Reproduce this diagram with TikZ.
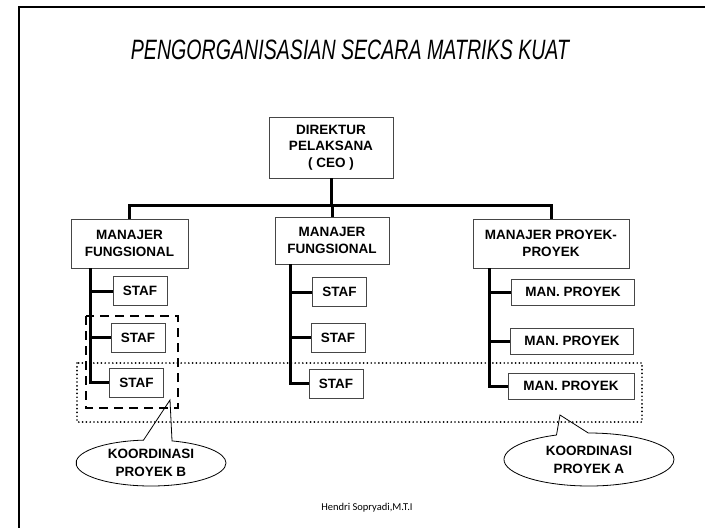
\documentclass[tikz,border=0pt]{standalone}
\usepackage{fontspec}
\setmainfont{Liberation Sans}
\newfontfamily\footerFont{Carlito}
\usetikzlibrary{shapes.callouts}
\definecolor{boxColor}{RGB}{70,70,70}
\tikzstyle{chart} = [x = 1pt, y = -1pt]
\tikzstyle{boxStyle} = [draw=boxColor, line width=.9pt, fill=white, inner sep=0pt, align=center, font=\fontsize{13.5}{16.5}\selectfont\bfseries]
\tikzstyle{stafStyle} = [boxStyle, minimum width=54pt, minimum height=29pt]
\tikzstyle{manStyle} = [boxStyle, minimum width=123pt, minimum height=26pt]
\tikzstyle{orgLine} = [line width=3pt]
\tikzstyle{frameLine} = [line width=2.5pt]
\tikzstyle{dashedBox} = [line width=2.5pt, dash pattern=on 9pt off 6pt]
\tikzstyle{dottedBox} = [line width=1.9pt, dash pattern=on 0pt off 3.8pt, line cap=round]
\tikzstyle{calloutStyle} = [ellipse callout, draw=black, line width=.8pt, callout pointer arc=22, align=center, inner sep=0pt, font=\fontsize{13.5}{18}\selectfont\bfseries]
\newcommand{\stafBranch}[2]{\draw [orgLine] (#2.west) -- (#2.west -| #1);}

\begin{document}
\begin{tikzpicture}[chart]
  \useasboundingbox (0,0) rectangle (705,528);
  \clip (0,0) rectangle (705,528);
  \draw [frameLine] (19,540) -- (19,7) -- (720,7);
  \node (title) at (350,50) [xscale=.70, font=\fontsize{28}{30}\selectfont\itshape] {PENGORGANISASIAN SECARA MATRIKS KUAT};
  % managers
  \node [boxStyle, minimum width=124pt, minimum height=61pt] (ceo) at (331,147.5) {DIREKTUR\\PELAKSANA\\( CEO )};
  \node [boxStyle, minimum width=117pt, minimum height=49pt] (leftMgr) at (129.5,243.5) {MANAJER\\FUNGSIONAL};
  \node [boxStyle, minimum width=114pt, minimum height=47pt] (midMgr) at (332,240.5) {MANAJER\\FUNGSIONAL};
  \node [boxStyle, minimum width=156pt, minimum height=49pt] (rightMgr) at (551,243.5) {MANAJER PROYEK-\\PROYEK};
  \coordinate (busLine) at (331,205);
  \draw [orgLine] (ceo.south) -- (busLine);
  \draw [orgLine] (leftMgr.north) |- (busLine) -| (rightMgr.north);
  \draw [orgLine] (midMgr.north) -- (midMgr.north |- busLine);
  % staff
  \node [stafStyle] (leftStafA) at (140,291) {STAF};
  \node [stafStyle] (leftStafB) at (138,337.5) {STAF};
  \node [stafStyle] (leftStafC) at (136.5,382.5) {STAF};
  \node [stafStyle] (midStafA) at (339.5,292) {STAF};
  \node [stafStyle] (midStafB) at (338,337.5) {STAF};
  \node [stafStyle] (midStafC) at (336,383.5) {STAF};
  \node [manStyle] (manA) at (573,292) {MAN. PROYEK};
  \node [manStyle] (manB) at (572,341) {MAN. PROYEK};
  \node [manStyle, minimum width=126pt] (manC) at (571,386) {MAN. PROYEK};
  \coordinate (leftTrunk) at (90,268);
  \coordinate (midTrunk) at (290,264);
  \coordinate (rightTrunk) at (489,268);
  \draw [orgLine] (leftTrunk) |- (leftStafC.west);
  \draw [orgLine] (midTrunk) |- (midStafC.west);
  \draw [orgLine] (rightTrunk) |- (manC.west);
  \foreach \stafNode in {leftStafA,leftStafB} {\stafBranch{leftTrunk}{\stafNode}}
  \foreach \stafNode in {midStafA,midStafB} {\stafBranch{midTrunk}{\stafNode}}
  \foreach \stafNode in {manA,manB} {\stafBranch{rightTrunk}{\stafNode}}
  % coordination
  \draw [dashedBox] (86,316) rectangle (178,408);
  \draw [dottedBox] (77,363) rectangle (642,422);
  \node [calloutStyle, minimum width=150pt, minimum height=46pt, callout absolute pointer={(170,400)}] (koordB) at (151,463) {KOORDINASI\\PROYEK B};
  \node [calloutStyle, minimum width=170pt, minimum height=53pt, callout absolute pointer={(560,415)}] (koordA) at (589,459.5) {KOORDINASI\\PROYEK A};
  \node (footer) at (367,508) {\footerFont\fontsize{10.5}{12}\selectfont Hendri Sopryadi,M.T.I};
\end{tikzpicture}
\end{document}
